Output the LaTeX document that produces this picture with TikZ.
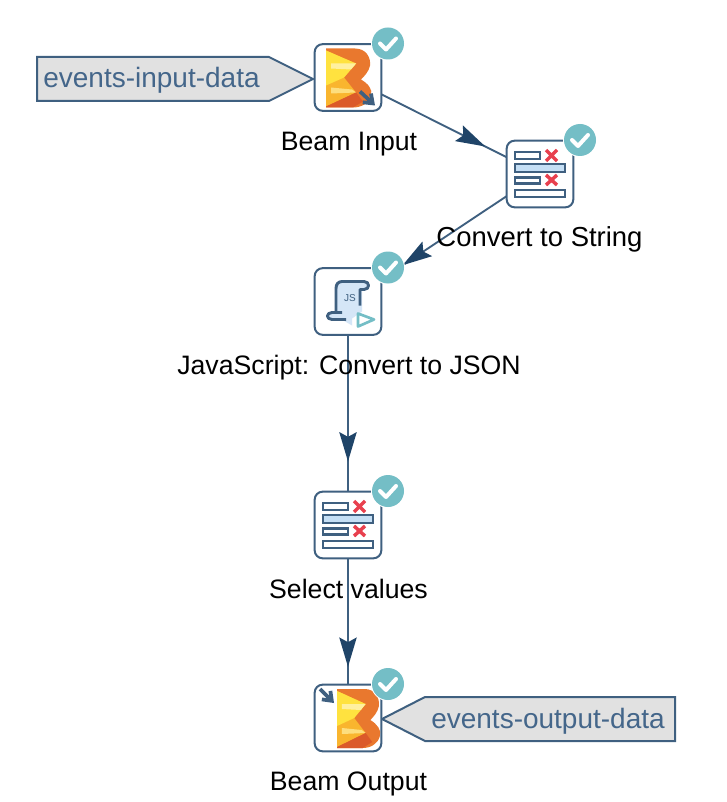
\documentclass[tikz,border=0pt]{standalone}
\usepackage{fontspec}
\setmainfont{Liberation Sans}
\usetikzlibrary{arrows.meta,decorations.markings}
\pgfdeclarelayer{bg}
\pgfsetlayers{bg,main}
\definecolor{edgeblue}{HTML}{3F6080}
\definecolor{headblue}{HTML}{1F4468}
\definecolor{tagtext}{HTML}{44668A}
\definecolor{taggray}{HTML}{E1E1E1}
\definecolor{badgeteal}{HTML}{74BEC6}
\definecolor{rowblue}{HTML}{C5DFF5}
\definecolor{xred}{HTML}{E8404E}
\definecolor{scrollblue}{HTML}{D5E6F7}
\definecolor{bO}{HTML}{E9782E}
\definecolor{bY}{HTML}{FFE23F}
\definecolor{bL}{HTML}{FFF0A0}
\definecolor{bA}{HTML}{F9B52E}
\definecolor{bR}{HTML}{DB5A2A}
\tikzset{
  x=0.75pt,y=-0.75pt,
  stepbox/.style={draw=edgeblue,line width=1.5pt,fill=white,rounded corners=6pt,minimum size=50pt,inner sep=0pt},
  caption/.style={font=\fontsize{20}{24}\selectfont,text=black,anchor=base,inner sep=0pt},
  tagbody/.style={draw=edgeblue,line width=1.5pt,fill=taggray},
  tagword/.style={font=\fontsize{21}{24}\selectfont,text=tagtext,anchor=base,inner sep=0pt},
  flow/.style={draw=edgeblue,line width=1.4pt,postaction={decorate},decoration={markings,
    mark=at position #1 with {\arrow{Stealth[length=22pt,width=13pt,inset=3.5pt,color=headblue,fill=headblue]}}}},
  rowline/.style={draw=edgeblue,line width=1.8pt},
  xline/.style={draw=xred,line width=2.6pt},
}
\newcommand{\okbadge}[1]{%
  \begin{scope}[shift={(#1)}]
    \fill[white] (40,-34) circle (17);
    \fill[badgeteal] (40,-34) circle (16);
    \draw[white,line width=3pt,line cap=round,line join=round] (32,-34) -- (38,-28) -- (48,-39);
  \end{scope}}
\newcommand{\rowsicon}[1]{%
  \begin{scope}[shift={(#1)}]
    \draw[rowline,fill=white] (-25,-22) rectangle (0,-15);
    \draw[rowline,fill=rowblue] (-25,-10) rectangle (25,-2);
    \draw[rowline,fill=white] (-25,3.5) rectangle (0,9.5);
    \draw[rowline,fill=white] (-25,16) rectangle (25,23);
    \draw[xline] (6,-24) -- (17,-13) (17,-24) -- (6,-13);
    \draw[xline] (6,1) -- (17,11) (17,1) -- (6,11);
  \end{scope}}
\newcommand{\beamshape}{%
  \fill[bO] (-22,-29) -- (7,-29) .. controls (18,-29) and (23,-20) .. (22,-12)
     .. controls (21,-6) and (16,-1) .. (13,2) .. controls (20,6) and (25,12) .. (23,18)
     .. controls (21,26) and (13,30) .. (5,30) -- (-22,30) -- cycle;
  \fill[bA] (-22,-27) -- (8,-14) -- (-4,0) -- (8,15) -- (-22,29) -- cycle;
  \fill[bY] (-22,-27) -- (8,-14) -- (-4,0) -- (-22,8) -- cycle;
  \fill[bL] (-17,-14) -- (8,-14) -- (3,-8) -- (-17,-9) -- cycle;
  \fill[bL!70!bA] (-17,10) -- (4,12) -- (8,15) -- (-17,16) -- cycle;
  \fill[bR] (-22,29) -- (8,15) -- (15,24) -- (5,30) -- (-22,30) -- cycle;}
\begin{document}
\begin{tikzpicture}
\useasboundingbox (0,0) rectangle (726,802);

% callout bodies
\draw[tagbody] (37,57) -- (269,57) -- (313,79) -- (269,101) -- (37,101) -- cycle;
\draw[tagbody] (675,697) -- (425,697) -- (382,719) -- (425,741) -- (675,741) -- cycle;

% step boxes
\node[stepbox] (input) at (348,77.5) {};
\node[stepbox] (tostring) at (540,174) {};
\node[stepbox] (js) at (348,301.5) {};
\node[stepbox] (select) at (348,525) {};
\node[stepbox] (output) at (348,718) {};

% connectors behind the boxes
\begin{pgfonlayer}{bg}
  \fill[white] (0,0) rectangle (726,802);
  \draw[flow=0.715] (input.center) -- (tostring.center);
  \draw[flow=0.715] (tostring.center) -- (js.center);
  \draw[flow=0.716] (js.center) -- (select.center);
  \draw[flow=0.735] (select.center) -- (output.center);
\end{pgfonlayer}

% Beam input icon
\begin{scope}[shift={(input.center)}]
  \beamshape
  \draw[edgeblue,line width=2.8pt,-{Straight Barb[length=6pt,width=9pt]}] (12,14) -- (27,28);
\end{scope}

% Beam output icon
\begin{scope}[shift={(output.center)}]
  \begin{scope}[xshift=7.5pt,xscale=0.95]
    \beamshape
  \end{scope}
  \draw[edgeblue,line width=2.8pt,-{Straight Barb[length=6pt,width=9pt]}] (-28,-29) -- (-14,-15);
\end{scope}

\rowsicon{tostring.center}
\rowsicon{select.center}

% JavaScript icon
\begin{scope}[shift={(js.center)}]
  \fill[scrollblue] (-12,-19) -- (20,-19) -- (20,-12) -- (14,-12) -- (14,10) -- (4,17) -- (4,24) -- (-8,17) -- (-20,18) -- (-20,12) -- (-12,12) -- cycle;
  \draw[edgeblue,line width=2.2pt,line join=round]
    (-12,11) -- (-12,-13) .. controls (-12,-17) and (-10,-20) .. (-6,-20) -- (16,-20)
    .. controls (22,-20) and (22,-12) .. (16,-12) -- (12,-12) -- (12,4);
  \draw[edgeblue,line width=2.2pt,line join=round]
    (-2,18) -- (-16,18) .. controls (-22,18) and (-22,11) .. (-16,11) -- (-6,11);
  \node[text=edgeblue,font=\fontsize{7.5}{8}\selectfont,inner sep=0pt] (jsmark) at (2,-3) {JS};
  \draw[badgeteal,line width=2pt,fill=white,line join=round] (10,12) -- (26,18) -- (10,25) -- cycle;
\end{scope}

% status badges
\okbadge{input.center}
\okbadge{tostring.center}
\okbadge{js.center}
\okbadge{select.center}
\okbadge{output.center}

% texts
\node[tagword] (inputtag) at (151.5,88) {events-input-data};
\node[tagword] (outputtag) at (548,728) {events-output-data};
\node[caption] (inputcap) at (349,150.5) {Beam Input};
\node[caption,font=\fontsize{20.6}{24}\selectfont] (stringcap) at (539.5,246.5) {Convert to String};
\node[caption] (jscap) at (349,374.5) {JavaScript: Convert to JSON};
\node[caption] (selectcap) at (348.5,598) {Select values};
\node[caption] (outputcap) at (348.5,790) {Beam Output};
\end{tikzpicture}
\end{document}
